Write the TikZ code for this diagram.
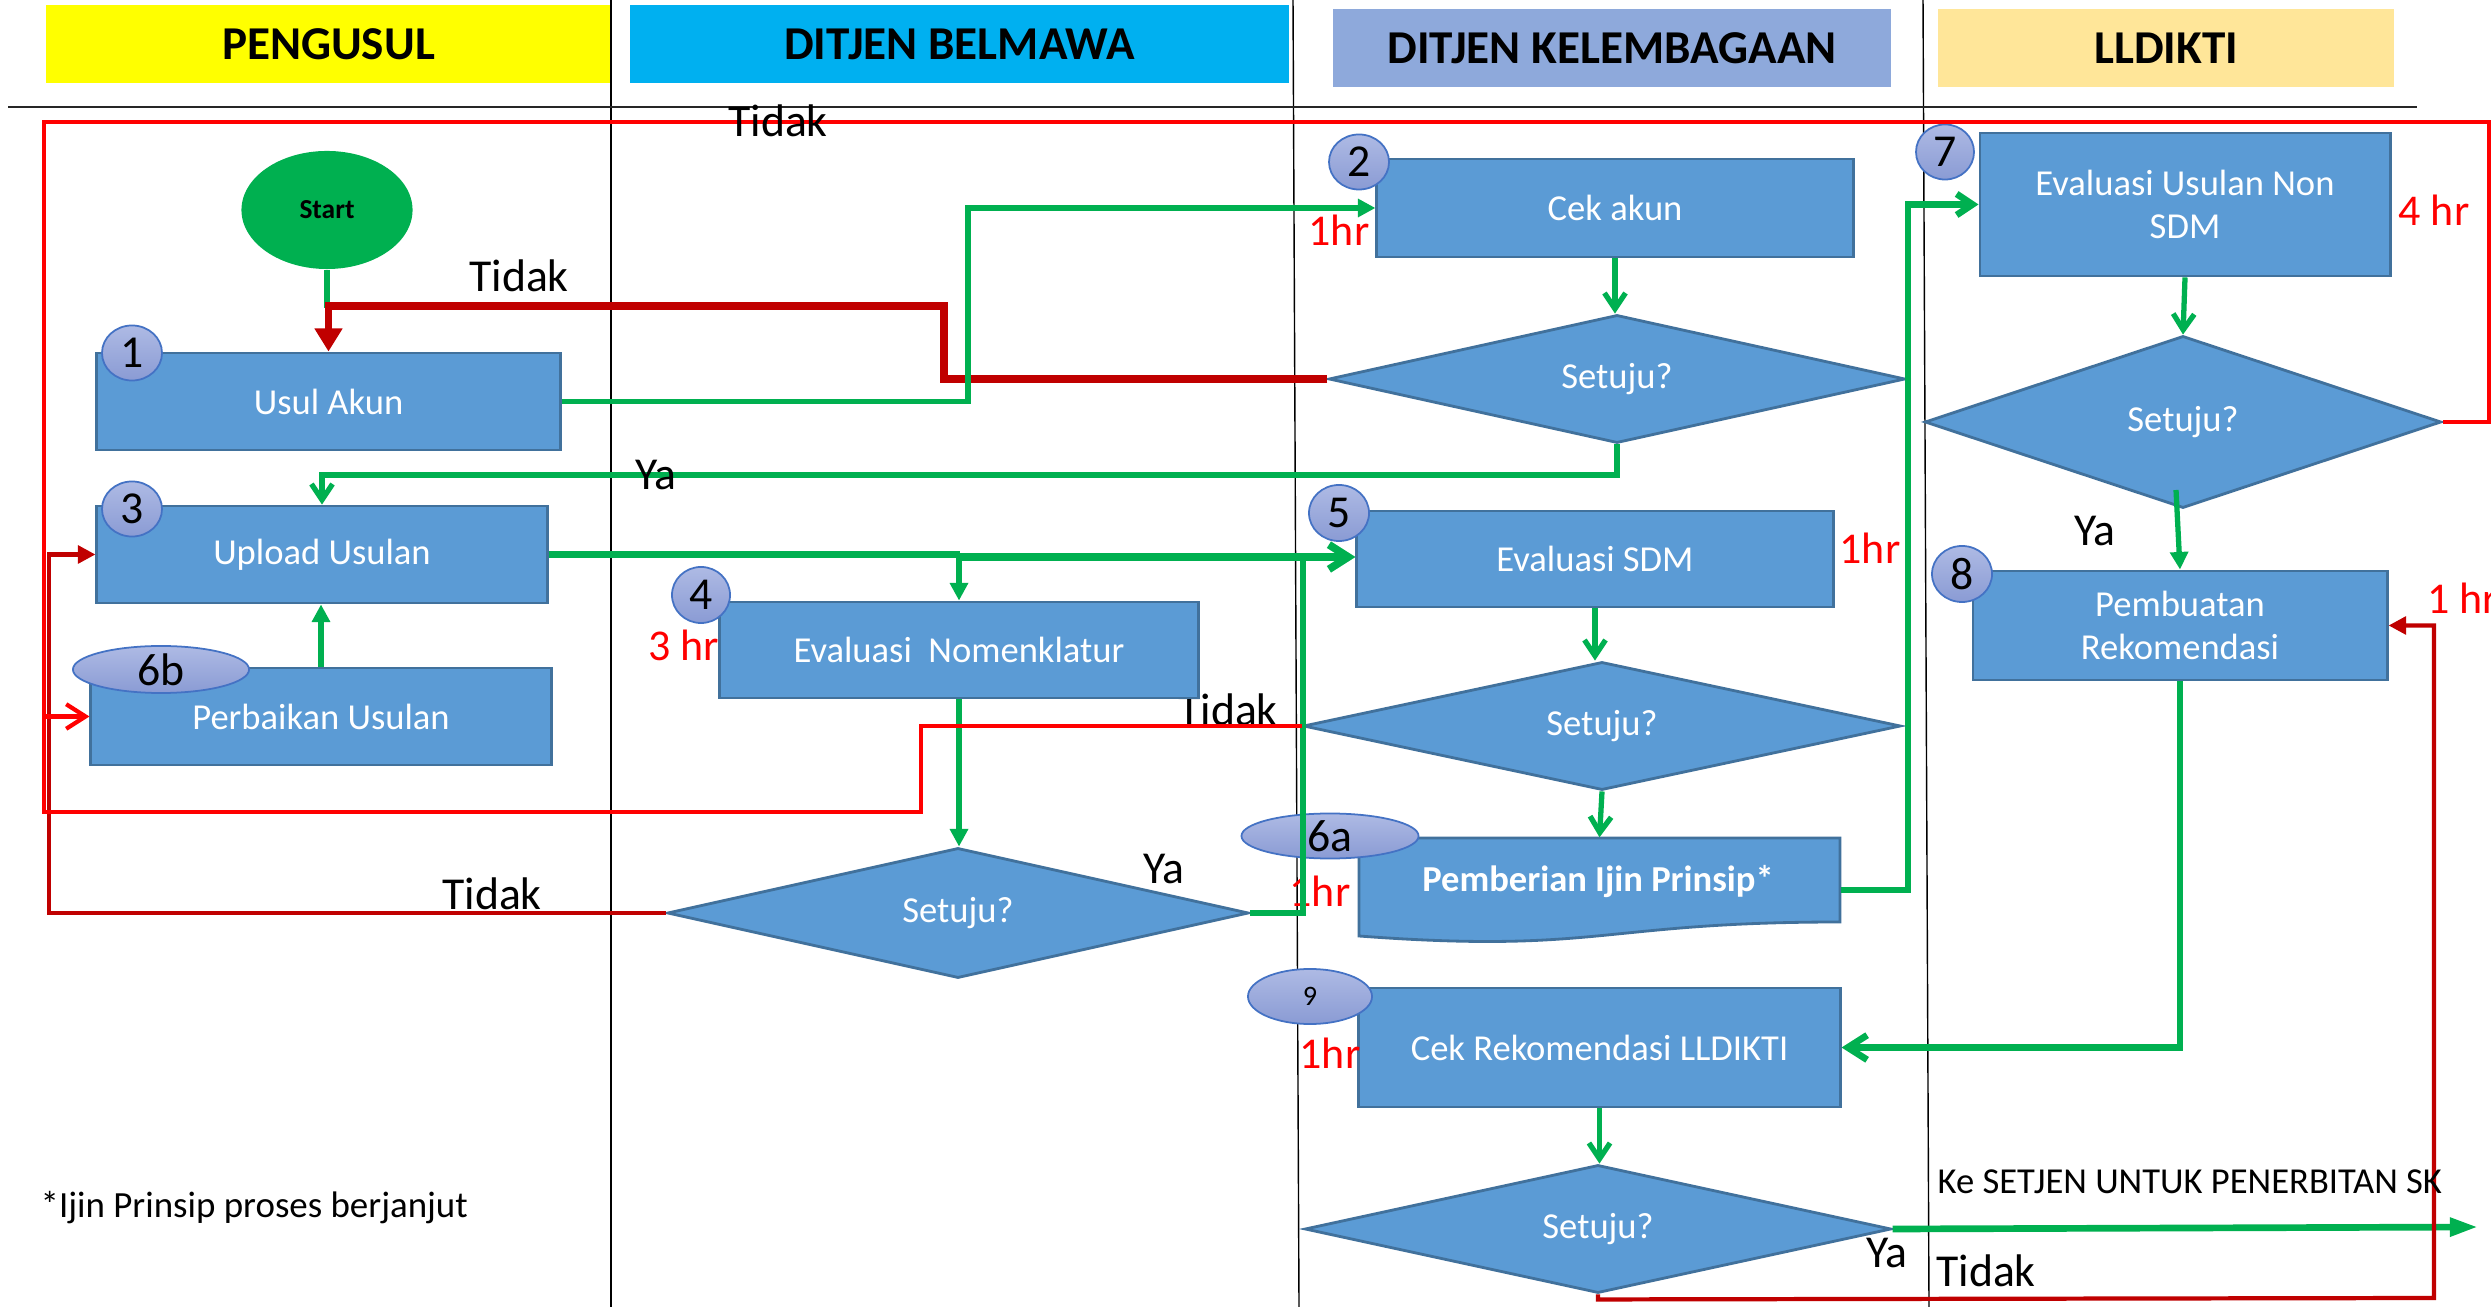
\documentclass[tikz,border=0pt]{standalone}
\usepackage{fontspec}
\setmainfont{Carlito}
\usetikzlibrary{shapes.geometric,arrows.meta}
\definecolor{gr}{HTML}{00B050}
\definecolor{rd}{HTML}{FF0000}
\definecolor{drd}{HTML}{C00000}
\definecolor{boxfill}{HTML}{5B9BD5}
\definecolor{boxline}{HTML}{41719C}
\definecolor{numtop}{HTML}{AEBAE4}
\definecolor{numbot}{HTML}{8A9BD4}
\definecolor{numline}{HTML}{4472C4}
\definecolor{hyellow}{HTML}{FFFF00}
\definecolor{hcyan}{HTML}{00B0F0}
\definecolor{hblue}{HTML}{8EA9DB}
\definecolor{hgold}{HTML}{FFE699}
\newcommand\fsz[2]{\fontsize{#1}{#2}\selectfont}
\tikzset{
  sz/.style 2 args={minimum width=#1cm, minimum height=#2cm},
  hdr/.style={inner sep=0pt, font=\bfseries\fsz{13.4}{15}, text=black},
  lane/.style={draw=black, line width=0.4pt},
  hline/.style={draw=black!85, line width=0.8pt},
  stepbox/.style={rectangle, draw=boxline, fill=boxfill, line width=0.8pt, text=white, font=\fsz{10.4}{12.3}, inner sep=0pt, align=center},
  decide/.style={diamond, draw=boxline, fill=boxfill, line width=0.8pt, text=white, font=\fsz{10.4}{12.3}, inner sep=0pt, shape aspect=4},
  numc/.style={ellipse, draw=numline, top color=numtop, bottom color=numbot, line width=0.5pt, font=\fsz{13}{14}, text=black, inner sep=0pt},
  lbl/.style={font=\fsz{13}{15}, text=black, inner sep=1pt},
  hrs/.style={font=\fsz{12.5}{14}, text=rd, inner sep=1pt},
  gthin/.style={draw=gr, line width=1.5pt},
  gmid/.style={draw=gr, line width=1.9pt},
  gthick/.style={draw=gr, line width=2.2pt},
  rmid/.style={draw=rd, line width=1.2pt},
  drmid/.style={draw=drd, line width=1.2pt},
  drthick/.style={draw=drd, line width=2pt},
  tri/.style={-{Triangle[length=5pt,width=5pt]}},
  bigtri/.style={-{Triangle[length=6.6pt,width=7.6pt]}},
  longtri/.style={-{Triangle[length=8pt,width=5pt]}},
  barb/.style={-{Straight Barb[length=4.5pt,width=6pt]}},
  bigbarb/.style={-{Straight Barb[length=5.5pt,width=7pt]}}
}
\begin{document}
\begin{tikzpicture}[x=0.01cm,y=-0.01cm]
\useasboundingbox[fill=white] (0,0) rectangle (2491,1307);

% headers
\node[hdr, fill=hyellow, sz={5.65}{0.78}] (h1) at (328.5,44) {PENGUSUL};
\node[hdr, fill=hcyan, sz={6.59}{0.78}] (h2) at (959.5,44) {DITJEN BELMAWA};
\node[hdr, fill=hblue, sz={5.58}{0.78}] (h3) at (1612,48) {DITJEN KELEMBAGAAN};
\node[hdr, fill=hgold, sz={4.56}{0.78}] (h4) at (2166,48) {LLDIKTI};

% lanes
\draw[lane] (611,0) -- (611,1307);
\draw[lane] (1293,0) -- (1299,1307);
\draw[lane] (1923,0) -- (1929,1307);
\draw[hline] (8,107) -- (2417,107);

% labels partly hidden by boxes
\node[hrs] (t3hr) at (684,645) {3 hr};
\node[lbl] (tdk3) at (1228,710) {Tidak};

% boxes
\node[stepbox, sz={4.63}{0.97}] (usul) at (328.5,401.5) {Usul Akun};
\node[stepbox, sz={4.50}{0.97}] (upload) at (322,554.5) {Upload Usulan};
\node[stepbox, sz={4.60}{0.97}] (perbaikan) at (321,716.5) {Perbaikan Usulan};
\node[stepbox, sz={4.76}{0.98}] (cekakun) at (1615,208) {Cek akun};
\node[stepbox, sz={4.78}{0.96}] (nomen) at (959,650) {Evaluasi~ Nomenklatur};
\node[stepbox, sz={4.76}{0.96}] (sdm) at (1595,559) {Evaluasi SDM};
\node[stepbox, sz={4.81}{1.19}] (cekrek) at (1599.5,1047.5) {Cek Rekomendasi LLDIKTI};
\node[stepbox, sz={4.10}{1.43}] (nonsdm) at (2185,204.5) {Evaluasi Usulan Non\\SDM};
\node[stepbox, sz={4.14}{1.09}] (pembuatan) at (2180,625.5) {Pembuatan\\Rekomendasi};
\filldraw[draw=boxline, fill=boxfill, line width=0.8pt] (1359,838) -- (1840,838) -- (1840,922) .. controls (1599.5,922) and (1599.5,954) .. (1359,936) -- cycle;
\node[inner sep=0pt, sz={4.81}{1.04}] (ijin) at (1599.5,890) {};
\node[font=\bfseries\fsz{10.4}{12.3}, text=white, inner sep=0pt] (ijintxt) at (1598,882) {Pemberian Ijin Prinsip*};

% decisions
\node[decide, sz={5.76}{1.28}] (d1) at (1617,379) {Setuju?};
\node[decide, sz={5.81}{1.30}] (d2) at (958,913) {Setuju?};
\node[decide, sz={5.97}{1.28}] (d3) at (1602,726) {Setuju?};
\node[decide, sz={5.16}{1.72}] (d4) at (2183,422) {Setuju?};
\node[decide, sz={5.86}{1.28}] (d5) at (1598,1229) {Setuju?};

% start
\node[ellipse, fill=gr, sz={1.71}{1.18}, font=\bfseries\fsz{7.8}{9}, inner sep=0pt] (start) at (327,210) {Start};

% numbers
\node[numc, sz={0.60}{0.55}] (n1) at (132,353) {1};
\node[numc, sz={0.60}{0.55}] (n2) at (1359,162) {2};
\node[numc, sz={0.60}{0.55}] (n3) at (132,509) {3};
\node[numc, sz={0.58}{0.56}] (n4) at (701,595) {4};
\node[numc, sz={0.60}{0.56}] (n5) at (1339,513) {5};
\node[numc, sz={0.58}{0.55}] (n7) at (1945,152) {7};
\node[numc, sz={0.60}{0.56}] (n8) at (1962,574) {8};
\node[numc, sz={1.24}{0.55}, font=\fsz{8}{9}] (n9) at (1310,996.5) {9};
\node[numc, sz={1.76}{0.47}] (n6b) at (161,669.5) {6b};
\node[numc, sz={1.77}{0.45}] (n6a) at (1330,836) {6a};

% time labels
\node[hrs] (hr1) at (1339,230) {1hr};
\node[hrs] (hr5) at (1870,548) {1hr};
\node[hrs] (hr6) at (1320,891) {1hr};
\node[hrs] (hr7) at (2434,210) {4 hr};
\node[hrs, anchor=west] (hr8) at (2423,598) {1 hr};
\node[hrs] (hr9) at (1330,1053) {1hr};

% connectors
\draw[gthin] (start.south) -- ++(0,38);
\draw[drthick, bigtri] (d1.west) -- (944,379) -- (944,306) -- (328.5,306) -- (usul.north);
\draw[gthin, tri] (usul.east) -- (968,401.5) -- (968,208) -- (cekakun.west);
\draw[gthin, barb] (cekakun.south) -- (cekakun.south |- d1.north);
\draw[gthin, barb] (d1.south) -- (1617,475) -- (322,475) -- (upload.north);
\draw[gthin, tri] (perbaikan.north) -- (perbaikan.north |- upload.south);
\coordinate (j1) at (959,557);
\draw[gthick] (upload.east) -- (960,554.5);
\draw[gthick, bigbarb] (j1) -- (sdm.west |- j1);
\draw[gthin, tri] (j1) -- (nomen.north);
\draw[gthin, tri] (nomen.south) -- (nomen.south |- d2.north);
\draw[gmid] (d2.east) -- (1303,913) -- (1303,557);
\draw[drmid, tri] (d2.west) -- (49,913) -- (49,554.5) -- (upload.west);
\draw[gthin, barb] (sdm.south) -- (sdm.south |- d3.north);
\draw[rmid] (d3.west) -- (921,726) -- (921,812) -- (44,812) -- (44,716.5);
\draw[gthin, barb] (d3.south) -- (ijin.north);
\draw[gmid, barb] (ijin.east) -- (1908,890) -- (1908,204.5) -- (nonsdm.west);
\draw[rmid, bigbarb] (d4.east) -- (2489,422) -- (2489,122) -- (44,122) -- (44,716.5) -- (perbaikan.west);
\draw[gthin, barb] (nonsdm.south) -- (d4.north);
\coordinate (d4in) at (2176,490);
\draw[gthin, tri] (d4in) -- (pembuatan.north);
\draw[gmid, bigbarb] (pembuatan.south) -- (2180,1047.5) -- (cekrek.east);
\draw[gthin, barb] (cekrek.south) -- (cekrek.south |- d5.north);
\coordinate (outp) at (2478,1227);
\draw[gmid, longtri] (d5.east) -- (outp);
\draw[drmid, tri] (d5.south) -- ++(0,5) -- (2434,1298) -- (2434,625.5) -- (pembuatan.east);

% branch labels
\node[lbl] (tdk0) at (778,121) {Tidak};
\node[lbl] (tdk1) at (519,276) {Tidak};
\node[lbl] (ya1) at (656,475) {Ya};
\node[lbl] (tdk2) at (492,894) {Tidak};
\node[lbl] (ya2) at (1164,869) {Ya};
\node[lbl] (ya4) at (2095,531) {Ya};
\node[lbl] (ya5) at (1887,1253) {Ya};
\node[lbl] (tdk5) at (1986,1271) {Tidak};
\node[font=\fsz{10.4}{12}, anchor=west, inner sep=0pt] (setjen) at (1937,1182) {Ke SETJEN UNTUK PENERBITAN SK};
\node[font=\fsz{10.5}{12}, anchor=west, inner sep=0pt] (foot) at (40,1208) {*Ijin Prinsip proses berjanjut};
\end{tikzpicture}
\end{document}
